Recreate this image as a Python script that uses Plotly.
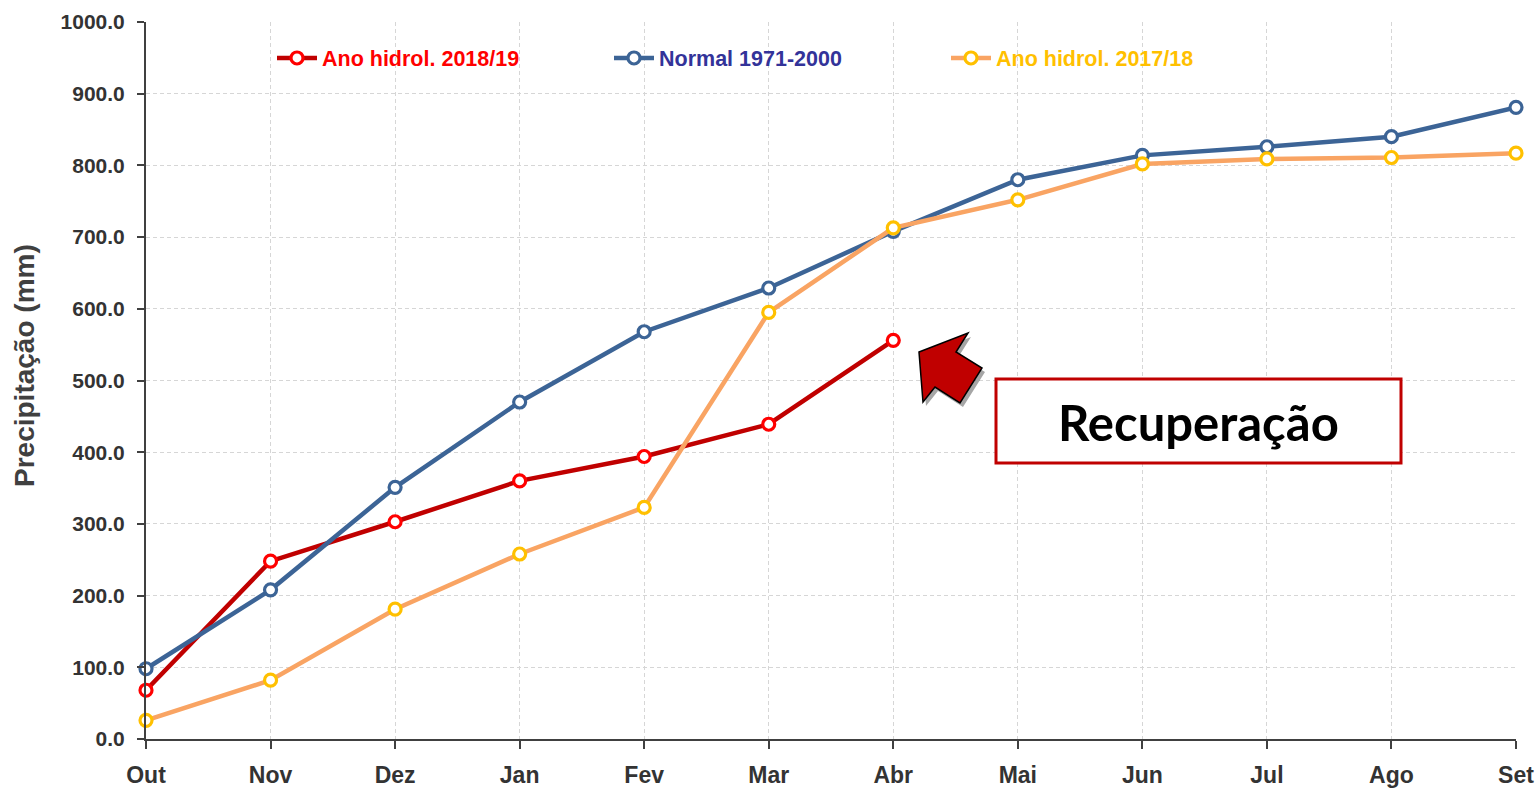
import plotly.graph_objects as go

months = ["Out", "Nov", "Dez", "Jan", "Fev", "Mar", "Abr", "Mai", "Jun", "Jul", "Ago", "Set"]
ano_2018_19 = [68, 248, 303, 360, 394, 439, 556]
normal_1971_2000 = [98, 208, 351, 470, 568, 629, 708, 780, 814, 826, 840, 881]
ano_2017_18 = [26, 82, 181, 258, 323, 595, 713, 752, 802, 809, 811, 817]

W, H = 1538, 788
ML, MR, MT, MB = 146, 22, 22, 49
PW, PH = W - ML - MR, H - MT - MB

def px(xp):
    return (xp - ML) / PW

def py(yp):
    return (H - MB - yp) / PH

FONT = "Liberation Sans, Arial, sans-serif"

fig = go.Figure()

def add(name, y, line_color, mk_color, text_color):
    fig.add_trace(go.Scatter(
        x=months[:len(y)], y=y, mode="lines+markers",
        name=f"<span style='color:{text_color}'>{name}</span>",
        line=dict(color=line_color, width=4.5),
        marker=dict(symbol="circle", size=12, color="white",
                    line=dict(color=mk_color, width=3.2)),
        cliponaxis=False,
    ))

add("Ano hidrol. 2018/19", ano_2018_19, "#C00000", "#FF0000", "#FF0000")
add("Normal 1971-2000", normal_1971_2000, "#3C6496", "#3C6496", "#333399")
add("Ano hidrol. 2017/18", ano_2017_18, "#F9A463", "#FFC000", "#FFC000")

shapes = []
shapes.append(dict(type="rect", xref="paper", yref="paper",
                   x0=px(996), x1=px(1401), y0=py(463), y1=py(379),
                   line=dict(color="#C00000", width=3), fillcolor="white", layer="above"))

arrow_pts = [(919, 352), (968, 333), (956, 352), (982, 368), (960, 403), (935, 387), (923, 402)]

def path(pts, dx=0, dy=0):
    return "M " + " L ".join(f"{px(x+dx):.5f},{py(y+dy):.5f}" for x, y in pts) + " Z"

shapes.append(dict(type="path", xref="paper", yref="paper", path=path(arrow_pts, 3, 4),
                   fillcolor="rgba(0,0,0,0.35)", line=dict(width=0), layer="above"))
shapes.append(dict(type="path", xref="paper", yref="paper", path=path(arrow_pts),
                   fillcolor="#C00000", line=dict(color="black", width=1.5), layer="above"))

fig.update_layout(
    width=W, height=H,
    margin=dict(l=ML, r=MR, t=MT, b=MB, autoexpand=False),
    paper_bgcolor="white", plot_bgcolor="white",
    showlegend=True,
    legend=dict(orientation="h", x=px(272), y=py(58), xanchor="left", yanchor="middle",
                entrywidth=282, entrywidthmode="pixels", itemwidth=40,
                font=dict(family=FONT, size=21.5, color="#333333", weight="bold"),
                bgcolor="rgba(0,0,0,0)", itemclick=False),
    shapes=shapes,
    annotations=[
        dict(xref="paper", yref="paper", x=px(1198), y=py(422), xanchor="center", yanchor="middle",
             text="<b>Recuperação</b>", showarrow=False,
             font=dict(family="Lato, Carlito, sans-serif", size=49, color="black")),
        dict(xref="paper", yref="paper", x=px(24), y=py(366), xanchor="center", yanchor="middle",
             text="<b>Precipitação (mm)</b>", showarrow=False, textangle=-90,
             font=dict(family=FONT, size=28, color="#404040")),
    ],
    xaxis=dict(type="category", range=[0, 11], showgrid=True, gridcolor="#D6D6D6",
               griddash="4px,3px", gridwidth=1, showline=True, linecolor="#404040", linewidth=2,
               ticks="outside", ticklen=8, tickwidth=1.5, tickcolor="#404040",
               ticklabelstandoff=6,
               tickfont=dict(family=FONT, size=23, color="#333333", weight="bold"),
               zeroline=False),
    yaxis=dict(range=[0, 1000], dtick=100, tickformat=".1f", showgrid=True,
               gridcolor="#D6D6D6", griddash="4px,3px", gridwidth=1,
               showline=True, linecolor="#404040", linewidth=2,
               ticks="outside", ticklen=7, tickwidth=1.5, tickcolor="#404040",
               ticklabelstandoff=8,
               tickfont=dict(family=FONT, size=21, color="#333333", weight="bold"),
               zeroline=False),
)

fig.write_html("out.html", config={"displayModeBar": False},
               post_script="document.body.style.margin='0';document.body.style.overflow='hidden';")
